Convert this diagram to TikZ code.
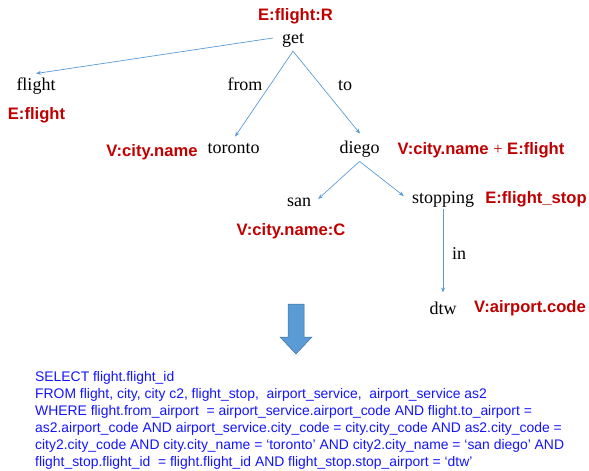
\documentclass[tikz,border=0pt]{standalone}
\usepackage{fontspec}
\setmainfont{Liberation Serif}
\newfontfamily\arialf{Liberation Sans}
\usetikzlibrary{arrows.meta}
\definecolor{linkblue}{RGB}{91,155,213}
\definecolor{arrowedge}{RGB}{65,113,156}
\definecolor{tagred}{RGB}{192,0,0}
\definecolor{sqlblue}{RGB}{20,20,255}
\tikzset{
  word/.style={inner sep=0pt, font=\fontsize{18}{20}\selectfont},
  tag/.style={inner sep=0pt, text=tagred, font=\arialf\bfseries\fontsize{16.6}{18}\selectfont},
  rel/.style={inner sep=0pt, font=\fontsize{18}{20}\selectfont},
  sql/.style={inner sep=0pt, anchor=west, text=sqlblue, font=\arialf\fontsize{13.9}{16}\selectfont},
  conn/.style={draw=linkblue, line width=0.7pt, -{Stealth[length=5pt,width=4pt]}},
}
\begin{document}
\begin{tikzpicture}[x=1pt,y=-1pt]
\useasboundingbox (0,0) rectangle (589,471);
% words
\node[tag] (rget) at (295.5,16) {E:flight:R};
\node[word] (get) at (293,40) {get};
\node[word] (flight) at (36,86) {flight};
\node[tag] (rflight) at (36.5,115) {E:flight};
\node[rel] (from) at (245,84) {from};
\node[rel] (to) at (345,86) {to};
\node[word] (toronto) at (233.5,149) {toronto};
\node[tag] (rtoronto) at (152,152) {V:city.name};
\node[word] (diego) at (359.5,149) {diego};
\node[tag] (rdiego) at (481,150) {V:city.name {\rmfamily\mdseries +} E:flight};
\node[word] (san) at (299,202) {san};
\node[tag] (rsan) at (291,231) {V:city.name:C};
\node[word] (stopping) at (443,199) {stopping};
\node[tag] (rstop) at (536,199) {E:flight\_stop};
\node[rel] (in) at (459,254) {in};
\node[word] (dtw) at (443,308) {dtw};
\node[tag] (rdtw) at (530,308) {V:airport.code};
% connectors
\draw[conn] ([xshift=-9pt,yshift=2pt]get.west) -- ([yshift=4pt]flight.north);
\draw[conn] ([yshift=-4pt]get.south) -- ([xshift=1.5pt,yshift=7pt]toronto.north);
\draw[conn] ([yshift=-4pt]get.south) -- ([xshift=0.5pt,yshift=7pt]diego.north);
\draw[conn] ([yshift=-4pt]diego.south) -- ([xshift=7pt,yshift=3pt]san.east);
\draw[conn] ([yshift=-4pt]diego.south) -- ([xshift=-8pt,yshift=3pt]stopping.west);
\draw[conn] ([yshift=-2pt]stopping.south) -- ([yshift=9pt]dtw.north);
% block arrow
\filldraw[fill=linkblue, draw=arrowedge, line width=0.5pt]
  (288,304) -- (304,304) -- (304,337) -- (312,337) -- (296,354) -- (280,337) -- (288,337) -- cycle;
% SQL
\node[sql] (q1) at (35,378) {SELECT flight.flight\_id};
\node[sql] (q2) at (35,395) {FROM flight, city, city c2, flight\_stop,\ \ airport\_service,\ \ airport\_service as2};
\node[sql] (q3) at (35,412) {WHERE flight.from\_airport\ \ = airport\_service.airport\_code AND flight.to\_airport =};
\node[sql] (q4) at (35,429) {as2.airport\_code AND airport\_service.city\_code = city.city\_code AND as2.city\_code =};
\node[sql] (q5) at (35,446) {city2.city\_code AND city.city\_name = ‘toronto’ AND city2.city\_name = ‘san diego’ AND};
\node[sql] (q6) at (35,463) {flight\_stop.flight\_id\ \ = flight.flight\_id AND flight\_stop.stop\_airport = ‘dtw’};
\end{tikzpicture}
\end{document}
